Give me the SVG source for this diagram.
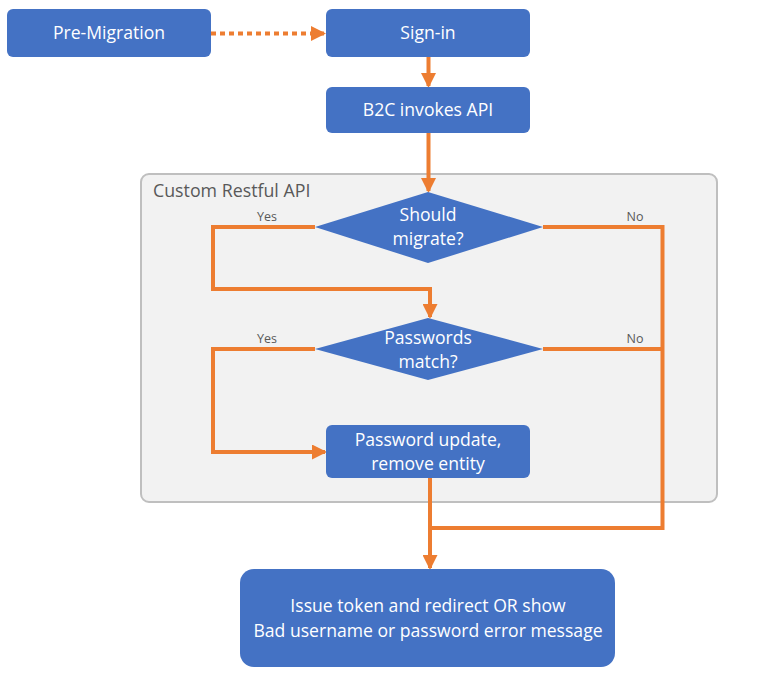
<svg xmlns="http://www.w3.org/2000/svg" width="760" height="677" viewBox="0 0 760 677">
<style>
.box{fill:#4472c4}
.t{font-family:"Open Sans","Noto Sans",sans-serif;fill:#ffffff;text-anchor:middle;font-size:17.6px}
.lbl{font-family:"Open Sans","Noto Sans",sans-serif;fill:#595959;font-size:12.5px;text-anchor:middle}
.c{fill:none;stroke:#ed7d31;stroke-width:4}
</style>
<defs>
<marker id="ah" markerWidth="15" markerHeight="15" refX="13" refY="7.5" orient="auto" markerUnits="userSpaceOnUse">
<path d="M0,0 L15,7.5 L0,15 Z" fill="#ed7d31"/>
</marker>
</defs>
<rect width="760" height="677" fill="#ffffff"/>
<g id="container">
<rect x="141" y="174" width="576" height="328" rx="8" fill="#f2f2f2" stroke="#bfbfbf" stroke-width="2"/>
<text x="153" y="197" font-family="Open Sans, Noto Sans, sans-serif" font-size="17.8" fill="#595959">Custom Restful API</text>
</g>
<g id="connectors">
<path class="c" d="M211,33.5 H312" stroke-width="5" stroke-dasharray="5 4"/>
<path class="c" d="M311,33.5 H324" marker-end="url(#ah)"/>
<path class="c" d="M428.5,57 V86" marker-end="url(#ah)"/>
<path class="c" d="M428.5,133 V191" marker-end="url(#ah)"/>
<path class="c" d="M315,227 H213 V289 H430 V317" marker-end="url(#ah)"/>
<path class="c" d="M543,227 H662.5 V528 H430"/>
<path class="c" d="M543,349 H662.5"/>
<path class="c" d="M315,349 H213 V452 H325" marker-end="url(#ah)"/>
<path class="c" d="M430,478 V568" marker-end="url(#ah)"/>
<text class="lbl" x="267" y="221">Yes</text>
<text class="lbl" x="635" y="221">No</text>
<text class="lbl" x="267" y="343">Yes</text>
<text class="lbl" x="635" y="343">No</text>
</g>
<g id="pre-migration">
<rect class="box" x="7" y="9" width="204" height="48" rx="6"/>
<text class="t" x="109" y="39">Pre-Migration</text>
</g>
<g id="sign-in">
<rect class="box" x="326" y="9" width="204" height="48" rx="6"/>
<text class="t" x="428" y="39">Sign-in</text>
</g>
<g id="b2c">
<rect class="box" x="326" y="87" width="204" height="46" rx="6"/>
<text class="t" x="428" y="116">B2C invokes API</text>
</g>
<g id="should-migrate">
<polygon class="box" points="428,192 543,227 428,263 315,227"/>
<text class="t" x="428" y="221">Should</text>
<text class="t" x="428" y="245">migrate?</text>
</g>
<g id="passwords-match">
<polygon class="box" points="428,318 543,349 428,380 315,349"/>
<text class="t" x="428" y="344">Passwords</text>
<text class="t" x="428" y="368">match?</text>
</g>
<g id="password-update">
<rect class="box" x="326" y="425" width="204" height="53" rx="6"/>
<text class="t" x="428" y="446">Password update,</text>
<text class="t" x="428" y="470">remove entity</text>
</g>
<g id="issue-token">
<rect class="box" x="240" y="569" width="375" height="98" rx="14"/>
<text class="t" x="428" y="612">Issue token and redirect OR show</text>
<text class="t" x="428" y="637">Bad username or password error message</text>
</g>
</svg>
